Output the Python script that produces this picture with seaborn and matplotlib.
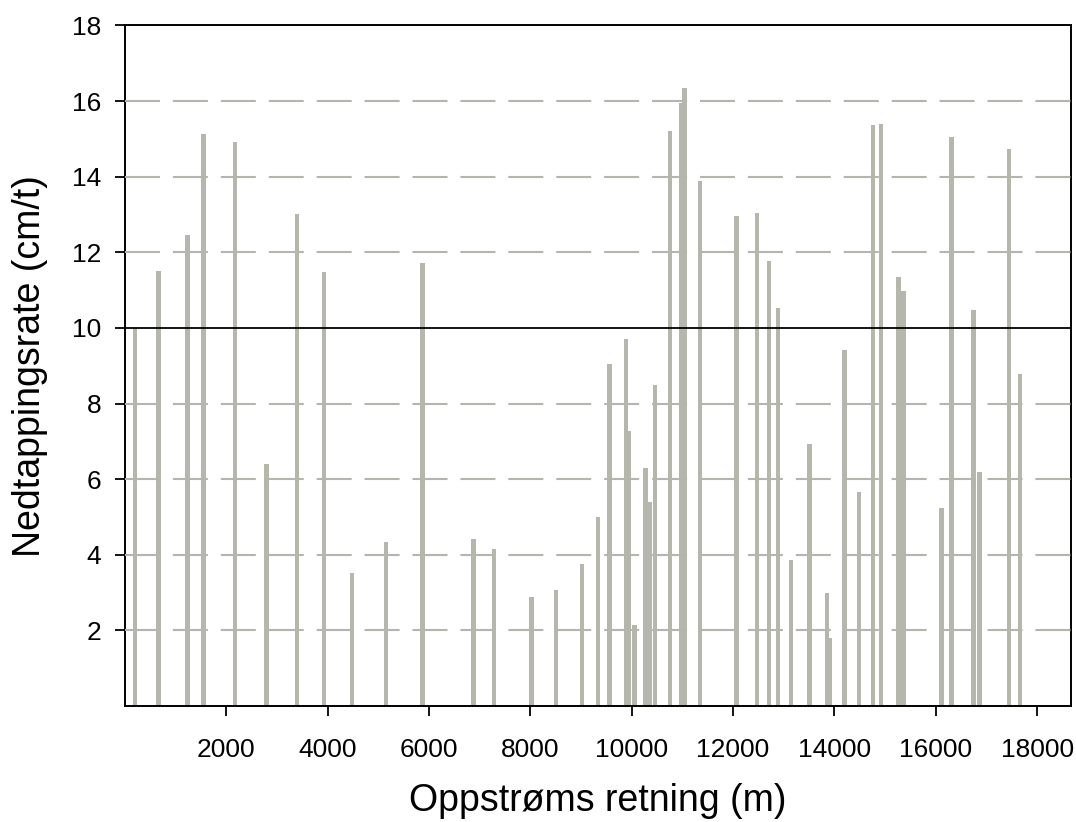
import matplotlib
matplotlib.use("Agg")
import matplotlib.pyplot as plt
import numpy as np
import pandas as pd
import seaborn as sns

# Distance upstream (m) of each measuring point
distance_m = [
    198, 659, 1232, 1555, 2175, 2800, 3400, 3927, 4481, 5150,
    5875, 6876, 7285, 8030, 8504, 9017, 9336, 9566, 9885, 9948,
    10053, 10270, 10358, 10458, 10753, 10985, 11040, 11351, 12066, 12472,
    12708, 12890, 13145, 13513, 13852, 13914, 14198, 14487, 14758, 14916,
    15263, 15362, 16116, 16314, 16744, 16863, 17445, 17663,
]
# Drawdown rate (cm/t) at each point
rate_cm_per_h = [
    10.0, 11.5, 12.47, 15.13, 14.93, 6.39, 13.02, 11.47, 3.53, 4.35,
    11.73, 4.41, 4.16, 2.88, 3.07, 3.77, 4.99, 9.05, 9.72, 7.27,
    2.15, 6.30, 5.41, 8.48, 15.2, 15.95, 16.35, 13.88, 12.95, 13.03,
    11.78, 10.53, 3.87, 6.94, 2.98, 1.81, 9.43, 5.66, 15.36, 15.39,
    11.36, 10.97, 5.23, 15.04, 10.47, 6.20, 14.73, 8.77,
]
x_ticks = [2000, 4000, 6000, 8000, 10000, 12000, 14000, 16000, 18000]
y_ticks = [2, 4, 6, 8, 10, 12, 14, 16, 18]
grid_levels = [2, 4, 6, 8, 12, 14, 16]
limit_level = 10

df = pd.DataFrame({"distance": distance_m, "rate": rate_cm_per_h})

sns.set_style("ticks")
plt.rcParams["font.family"] = ["Liberation Sans", "DejaVu Sans"]
plt.rcParams["text.color"] = "black"
plt.rcParams["axes.labelcolor"] = "black"

fig = plt.figure(figsize=(10.76, 8.22), dpi=100)
ax = fig.add_axes([0.116, 0.141, 0.879, 0.828])

bar_color = "#b6b7ac"
bar_width_m = 92
min_gap = np.min(np.diff(np.unique(df["distance"])))

sns.barplot(
    data=df, x="distance", y="rate", native_scale=True,
    width=bar_width_m / min_gap, color=bar_color, saturation=1,
    errorbar=None, linewidth=0, ax=ax, zorder=2,
)

for lvl in grid_levels:
    ax.axhline(lvl, color="#b4b5ad", lw=1.5, linestyle=(0, (16.8, 6.2)), zorder=3)
ax.axhline(limit_level, color="black", lw=1.3, zorder=4)

ax.set_xlim(0, 18660)
ax.set_ylim(0, 18)
ax.set_xticks(x_ticks)
ax.set_yticks(y_ticks)
ax.set_xticklabels([str(v) for v in x_ticks])
ax.set_yticklabels([str(v) for v in y_ticks])

for side in ["left", "right", "top", "bottom"]:
    ax.spines[side].set_visible(True)
    ax.spines[side].set_color("black")
    ax.spines[side].set_linewidth(1.4)

ax.tick_params(axis="both", direction="out", length=7, width=1.3,
               color="black", labelsize=19, labelcolor="black")
ax.tick_params(axis="x", pad=16)
ax.tick_params(axis="y", pad=10)

ax.set_xlabel("Oppstrøms retning (m)", fontsize=27, labelpad=15, color="black")
ax.set_ylabel("Nedtappingsrate (cm/t)", fontsize=27, labelpad=17, color="black")

fig.savefig("out.png", dpi=100)
